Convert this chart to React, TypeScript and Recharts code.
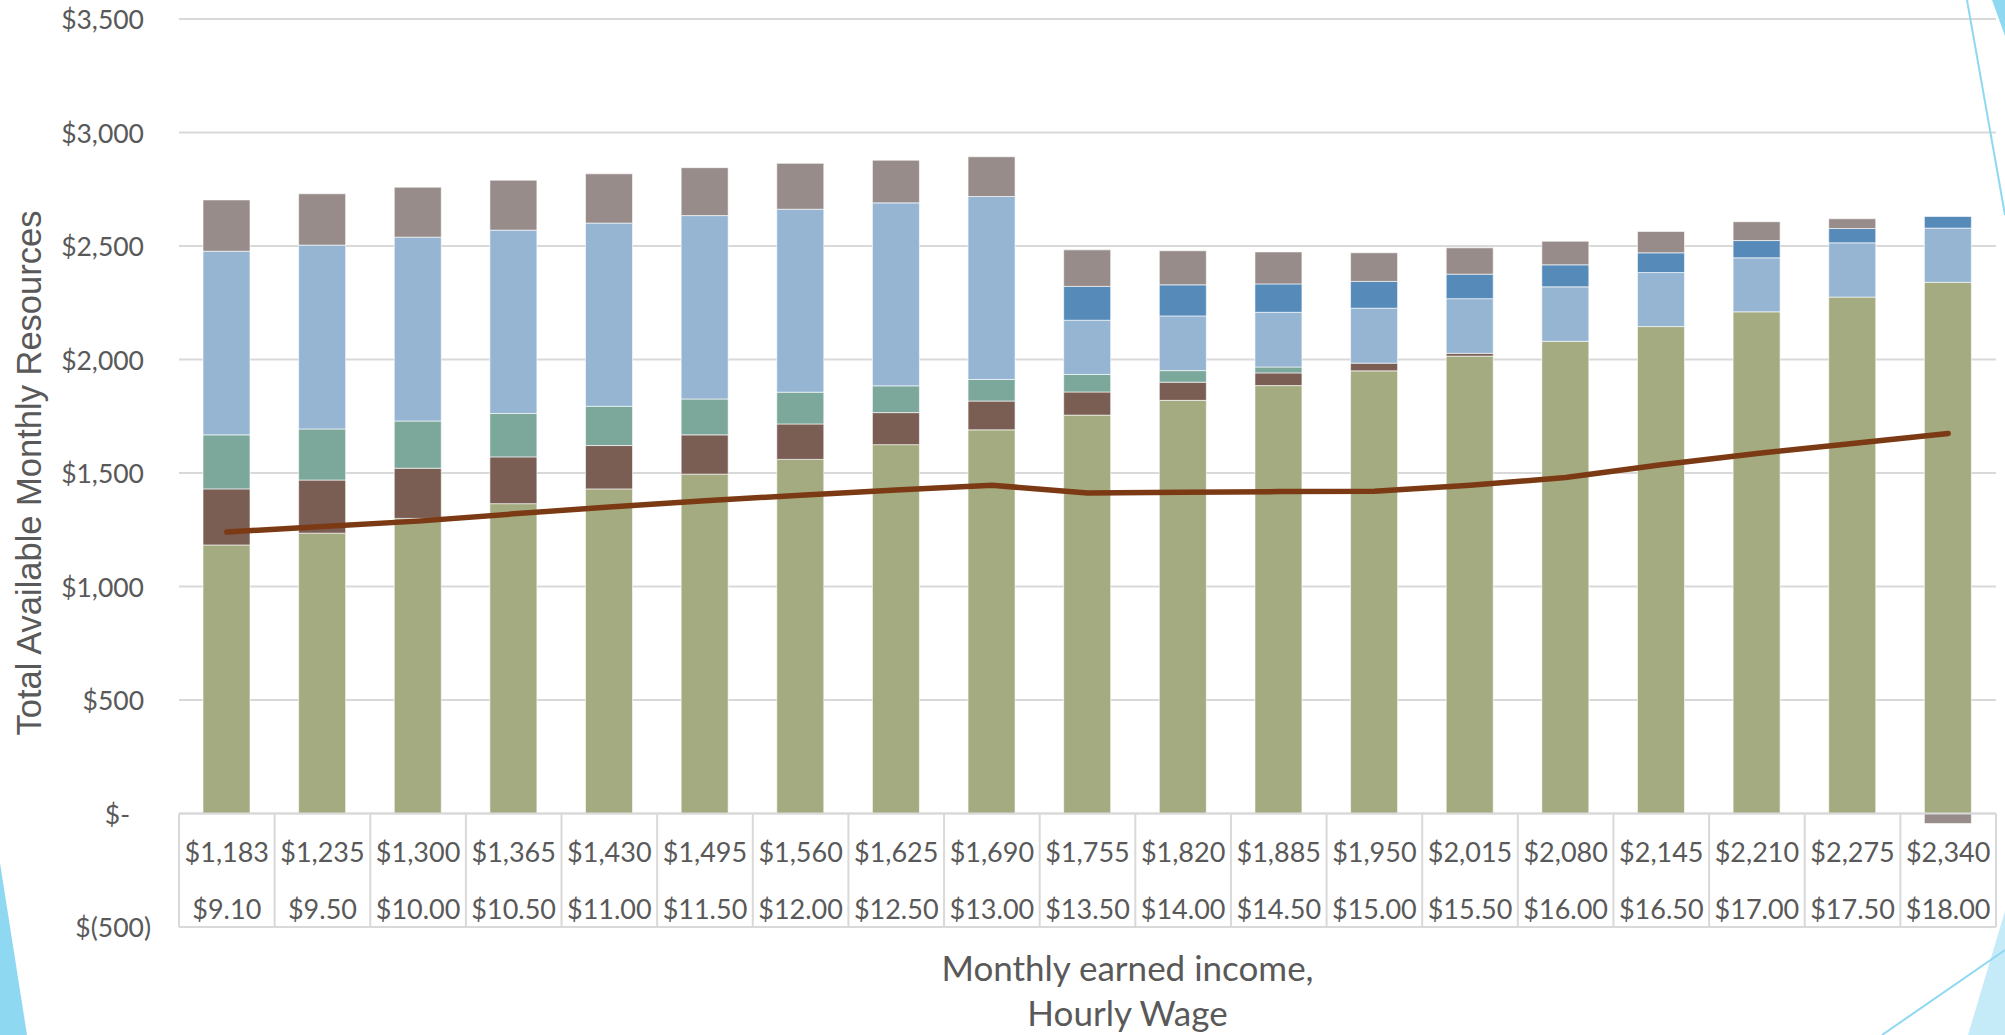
import { ComposedChart, Bar, Line, XAxis, YAxis, CartesianGrid } from 'recharts'

// category labels (two-level axis: monthly income / hourly wage)
const incomeLabels = ['$1,183', '$1,235', '$1,300', '$1,365', '$1,430', '$1,495', '$1,560', '$1,625', '$1,690', '$1,755', '$1,820', '$1,885', '$1,950', '$2,015', '$2,080', '$2,145', '$2,210', '$2,275', '$2,340']
const wageLabels = ['$9.10', '$9.50', '$10.00', '$10.50', '$11.00', '$11.50', '$12.00', '$12.50', '$13.00', '$13.50', '$14.00', '$14.50', '$15.00', '$15.50', '$16.00', '$16.50', '$17.00', '$17.50', '$18.00']

// stacked segments, bottom to top
const earned = [1183, 1235, 1300, 1365, 1430, 1495, 1560, 1625, 1690, 1755, 1820, 1885, 1950, 2015, 2080, 2145, 2210, 2275, 2340]
const seg2 = [247, 234, 221, 206, 191, 173, 156, 141, 127, 102, 80, 56, 34, 12, 0, 0, 0, 0, 0]
const seg3 = [238, 225, 208, 191, 173, 158, 140, 118, 95, 77, 51, 26, 0, 0, 0, 0, 0, 0, 0]
const seg4 = [809, 810, 810, 808, 807, 808, 806, 806, 806, 239, 241, 241, 242, 241, 240, 238, 238, 239, 239]
const seg5 = [0, 0, 0, 0, 0, 0, 0, 0, 0, 149, 137, 125, 118, 108, 97, 87, 76, 63, 51]
const seg6 = [226, 226, 220, 220, 217, 211, 202, 188, 175, 161, 150, 141, 126, 116, 104, 94, 83, 43, -44]
const lineValues = [1240, 1264, 1288, 1320, 1350, 1378, 1402, 1425, 1446, 1412, 1415, 1418, 1420, 1446, 1480, 1536, 1586, 1630, 1674]

const yTicks = [-500, 0, 500, 1000, 1500, 2000, 2500, 3000, 3500]

const data = incomeLabels.map((income, i) => ({
  income,
  wage: wageLabels[i],
  earned: earned[i],
  seg2: seg2[i],
  seg3: seg3[i],
  seg4: seg4[i],
  seg5: seg5[i],
  seg6: seg6[i],
  line: lineValues[i],
}))

const W = 2005
const H = 1035
const MARGIN = { top: 19, right: 9, bottom: 8, left: 0 }
const Y_AXIS_W = 179
const X_AXIS_H = 100
const PLOT_W = W - MARGIN.left - MARGIN.right - Y_AXIS_W
const PLOT_H = H - MARGIN.top - MARGIN.bottom - X_AXIS_H
const BAND = PLOT_W / incomeLabels.length
// the category table sits between the 0 and -500 lines
const TABLE_H = PLOT_H * 500 / 4000

const GRID = '#d9d9d9'
const TEXT = '#595959'
const FONT = 'Lato, "Noto Sans", sans-serif'

function fmtY(v: number) {
  if (v === 0) return '$-'
  if (v < 0) return `$(${Math.abs(v).toLocaleString('en-US')})`
  return `$${v.toLocaleString('en-US')}`
}

function YTick(props: any) {
  const { x, y, payload } = props
  const v = payload.value
  const dx = v === 0 ? -14 : v < 0 ? 7 : 0
  return (
    <text x={x + dx} y={y} textAnchor="end" dominantBaseline="central" fontFamily={FONT} fontSize={26.5} fill={TEXT}>
      {fmtY(v)}
    </text>
  )
}

function TableTick(props: any) {
  const { x, y, index } = props
  const top = y - TABLE_H
  const half = BAND / 2
  return (
    <g>
      <line x1={x - half} x2={x + half} y1={top} y2={top} stroke={GRID} strokeWidth={2} />
      <line x1={x - half} x2={x + half} y1={y} y2={y} stroke={GRID} strokeWidth={2} />
      <line x1={x - half} x2={x - half} y1={top} y2={y} stroke={GRID} strokeWidth={2} />
      {index === incomeLabels.length - 1 && (
        <line x1={x + half} x2={x + half} y1={top} y2={y} stroke={GRID} strokeWidth={2} />
      )}
      <text x={x} y={top + 38} textAnchor="middle" dominantBaseline="central" fontFamily={FONT} fontSize={27} fill={TEXT}>
        {incomeLabels[index]}
      </text>
      <text x={x} y={top + 95} textAnchor="middle" dominantBaseline="central" fontFamily={FONT} fontSize={27} fill={TEXT}>
        {wageLabels[index]}
      </text>
    </g>
  )
}

function YTitle(props: any) {
  const vb = props.viewBox
  const cx = vb.x + 29
  const cy = vb.y + vb.height / 2
  return (
    <text x={cx} y={cy} transform={`rotate(-90 ${cx} ${cy})`} textAnchor="middle" dominantBaseline="central"
      fontFamily='"Liberation Sans", Arial, sans-serif' fontSize={34.5} fill={TEXT}>
      Total Available Monthly Resources
    </text>
  )
}

function XTitle(props: any) {
  const vb = props.viewBox
  const cx = vb.x + vb.width / 2 + 40
  return (
    <text textAnchor="middle" fontFamily={FONT} fontSize={35} fill={TEXT}>
      <tspan x={cx} y={vb.y + 40} dominantBaseline="central">Monthly earned income,</tspan>
      <tspan x={cx} y={vb.y + 85} dominantBaseline="central">Hourly Wage</tspan>
    </text>
  )
}

const segStroke = { stroke: '#ffffff', strokeWidth: 1, strokeOpacity: 0.6 }

export default function App() {
  return (
    <div style={{ position: 'absolute', left: 0, top: 0, width: W, height: H, background: '#fff' }}>
      <ComposedChart width={W} height={H} data={data} margin={MARGIN} stackOffset="sign" barSize={47}>
        <CartesianGrid vertical={false} stroke={GRID} strokeWidth={2} />
        <YAxis
          width={Y_AXIS_W}
          domain={[-500, 3500]}
          ticks={yTicks}
          interval={0}
          axisLine={false}
          tickLine={false}
          tickSize={0}
          tickMargin={35}
          tick={<YTick />}
          label={{ content: <YTitle /> }}
        />
        <XAxis
          dataKey="income"
          height={X_AXIS_H}
          interval={0}
          axisLine={false}
          tickLine={false}
          tickSize={0}
          tickMargin={0}
          tick={<TableTick />}
          label={{ content: <XTitle /> }}
        />
        <Bar dataKey="earned" stackId="a" fill="#a4ab80" {...segStroke} isAnimationActive={false} />
        <Bar dataKey="seg2" stackId="a" fill="#7a5e54" {...segStroke} isAnimationActive={false} />
        <Bar dataKey="seg3" stackId="a" fill="#7ca79b" {...segStroke} isAnimationActive={false} />
        <Bar dataKey="seg4" stackId="a" fill="#95b5d3" {...segStroke} isAnimationActive={false} />
        <Bar dataKey="seg5" stackId="a" fill="#558ab9" {...segStroke} isAnimationActive={false} />
        <Bar dataKey="seg6" stackId="a" fill="#978c8a" {...segStroke} isAnimationActive={false} />
        <Line dataKey="line" type="linear" stroke="#7b3a14" strokeWidth={5.5} strokeLinecap="round" dot={false} activeDot={false} isAnimationActive={false} />
      </ComposedChart>
      {/* slide theme decorations */}
      <svg width={W} height={H} style={{ position: 'absolute', left: 0, top: 0, pointerEvents: 'none' }}>
        <polygon points="0,863 27,1035 0,1035" fill="#8fd8f2" />
        <polygon points="1992,0 2005,0 2005,36" fill="#8fd8f2" />
        <line x1={1967} y1={0} x2={2005} y2={215} stroke="#8fd8f2" strokeWidth={2} />
        <polygon points="2005,911 1968,1035 2005,1035" fill="#c6ebf8" />
        <line x1={1882} y1={1035} x2={2005} y2={950} stroke="#8fd8f2" strokeWidth={2} />
      </svg>
    </div>
  )
}
